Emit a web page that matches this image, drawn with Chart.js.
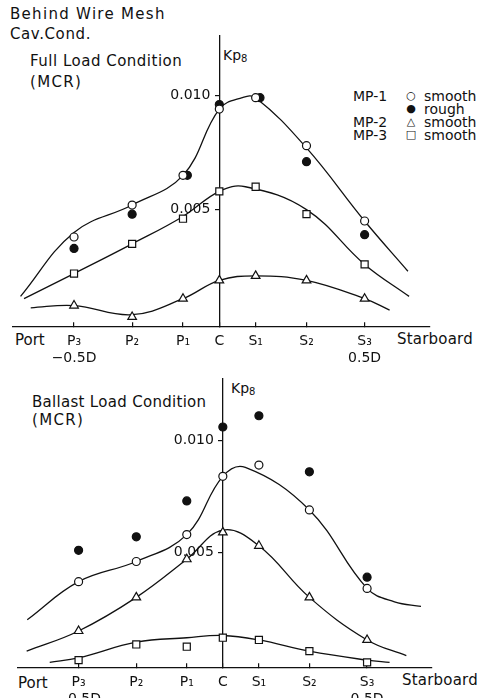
<!DOCTYPE html>
<html>
<head>
<meta charset="utf-8">
<script src="https://cdn.jsdelivr.net/npm/chart.js@4.4.0/dist/chart.umd.min.js"></script>
<style>
  body { margin: 0; width: 477px; height: 698px; overflow: hidden; position: relative; background: #fff;
         font-family: "DejaVu Sans", sans-serif; color: #111; }
  canvas { position: absolute; left: 0; }
  .t { position: absolute; white-space: nowrap; font-size: 15px; line-height: 1; }
  .kp { font-size: 14px; }
  .kp sub { font-size: 10px; vertical-align: -2px; }
  .key { position: absolute; left: 353px; display: flex; align-items: center; height: 13px;
         font-size: 14px; white-space: nowrap; }
  .key .id { width: 45px; }
  .key .sym { width: 26px; text-align: center; font-size: 11px; line-height: 13px; }
</style>
</head>
<body>
<div class="t" style="left:10px;top:7px;letter-spacing:1.3px">Behind Wire Mesh</div>
<div class="t" style="left:10px;top:27px;letter-spacing:0.6px">Cav.Cond.</div>

<div class="t" style="left:30px;top:54px;letter-spacing:0.5px">Full Load Condition</div>
<div class="t" style="left:30px;top:75px;letter-spacing:1.3px">(MCR)</div>
<div class="t kp" style="left:223px;top:48px">Kp<sub>8</sub></div>

<div class="key" style="top:89px"><span class="id">MP-1</span><span class="sym">○</span><span>smooth</span></div>
<div class="key" style="top:102px"><span class="id"></span><span class="sym">●</span><span>rough</span></div>
<div class="key" style="top:115px"><span class="id">MP-2</span><span class="sym">△</span><span>smooth</span></div>
<div class="key" style="top:128px"><span class="id">MP-3</span><span class="sym">□</span><span>smooth</span></div>

<div class="t" style="left:15px;top:333px">Port</div>
<div class="t" style="left:397px;top:332px;letter-spacing:0.2px">Starboard</div>

<div class="t" style="left:32px;top:395px;letter-spacing:0.3px">Ballast Load Condition</div>
<div class="t" style="left:32px;top:413px;letter-spacing:1.3px">(MCR)</div>
<div class="t kp" style="left:231px;top:381px">Kp<sub>8</sub></div>

<div class="t" style="left:18px;top:676px">Port</div>
<div class="t" style="left:402px;top:673px;letter-spacing:0.2px">Starboard</div>

<canvas id="fullLoad" width="477" height="365" style="top:0"></canvas>
<canvas id="ballastLoad" width="477" height="348" style="top:350px"></canvas>

<script>
// measuring stations across the disc, in units of D (port negative)
const stations = [-0.5, -0.3, -0.125, 0, 0.125, 0.3, 0.5];
const stationLabels = [['P₃', '−0.5D'], 'P₂', 'P₁', 'C', 'S₁', 'S₂', ['S₃', '0.5D']];
const kpTicks = [0.005, 0.010];

// Full load condition (MCR)
const fullMP1Smooth = [0.0038, 0.0052, 0.0065, 0.0094, 0.0099, 0.0078, 0.0045];
const fullMP1RoughX = [-0.5, -0.3, -0.11, 0, 0.14, 0.3, 0.5];
const fullMP1Rough = [0.0033, 0.0048, 0.0065, 0.0096, 0.0099, 0.0071, 0.0039];
const fullMP2Smooth = [0.0008, 0.0003, 0.0011, 0.0019, 0.0021, 0.0019, 0.0011];
const fullMP3Smooth = [0.0022, 0.0035, 0.0046, 0.0058, 0.0060, 0.0048, 0.0026];

// faired curves, full load
const fullMP1CurveX = [-0.684, -0.5, -0.3, -0.125, 0, 0.079, 0.125, 0.3, 0.5, 0.649];
const fullMP1CurveY = [0.0012, 0.0040, 0.0052, 0.0065, 0.0094, 0.0099, 0.0099, 0.0077, 0.0045, 0.0023];
const fullMP2CurveX = [-0.649, -0.5, -0.3, -0.125, 0, 0.125, 0.3, 0.5, 0.586];
const fullMP2CurveY = [0.0007, 0.0008, 0.0004, 0.0011, 0.0019, 0.0021, 0.0019, 0.0011, 0.0006];
const fullMP3CurveX = [-0.672, -0.5, -0.3, -0.125, 0, 0.09, 0.3, 0.5, 0.653];
const fullMP3CurveY = [0.0011, 0.0022, 0.0035, 0.0047, 0.0058, 0.0060, 0.0050, 0.0026, 0.0012];

// Ballast load condition (MCR)
const ballastMP1Smooth = [0.0037, 0.0046, 0.0058, 0.0084, 0.0089, 0.0069, 0.0034];
const ballastMP1Rough = [0.0051, 0.0057, 0.0073, 0.0106, 0.0111, 0.0086, 0.0039];
const ballastMP2Smooth = [0.0015, 0.0030, 0.0047, 0.0059, 0.0053, 0.0030, 0.0011];
const ballastMP3Smooth = [0.0002, 0.0009, 0.0008, 0.0012, 0.0011, 0.0006, 0.0001];

// faired curves, ballast load
const ballastMP1CurveX = [-0.678, -0.5, -0.3, -0.125, 0, 0.078, 0.3, 0.5, 0.595, 0.687];
const ballastMP1CurveY = [0.0020, 0.0037, 0.0046, 0.0058, 0.0084, 0.0088, 0.0069, 0.0034, 0.0028, 0.0026];
const ballastMP2CurveX = [-0.68, -0.5, -0.3, -0.125, 0, 0.125, 0.3, 0.5, 0.636];
const ballastMP2CurveY = [0.0006, 0.0015, 0.0030, 0.0047, 0.0060, 0.0053, 0.0030, 0.0011, 0.0004];
const ballastMP3CurveX = [-0.6, -0.5, -0.3, -0.125, 0, 0.125, 0.3, 0.5, 0.578];
const ballastMP3CurveY = [0.0001, 0.0003, 0.0010, 0.0012, 0.0013, 0.0011, 0.0006, 0.0002, 0.0001];

const ink = '#111';
Chart.defaults.font.family = '"DejaVu Sans", sans-serif';
Chart.defaults.font.size = 14;
Chart.defaults.color = ink;

const pts = (xs, ys) => xs.map((x, i) => ({ x: x, y: ys[i] }));

const marks = (xs, ys, style, filled) => ({
    data: pts(xs, ys),
    pointStyle: style,
    pointRadius: style === 'circle' ? 4 : 5,
    pointBackgroundColor: filled ? ink : '#fff',
    pointBorderColor: ink,
    pointBorderWidth: 1.2,
    showLine: false,
    order: 0
});

const curve = (xs, ys) => ({
    data: pts(xs, ys),
    showLine: true,
    borderColor: ink,
    borderWidth: 1.3,
    tension: 0.4,
    pointRadius: 0,
    order: 1
});

const panel = (ctx, datasets, yMin, yMax, padding) => new Chart(ctx, {
    type: 'scatter',
    data: { datasets: datasets },
    options: {
        responsive: false,
        animation: false,
        events: [],
        layout: { padding: padding },
        plugins: { legend: { display: false }, tooltip: { enabled: false } },
        scales: {
            x: {
                type: 'linear',
                min: -0.71,
                max: 0.725,
                position: { y: yMin },
                afterBuildTicks: scale => { scale.ticks = stations.map(v => ({ value: v })) },
                ticks: {
                    autoSkip: false,
                    maxRotation: 0,
                    padding: 11,
                    callback: (value, index) => stationLabels[index]
                },
                grid: { drawOnChartArea: false, tickLength: -5, color: ink, lineWidth: 1.2 },
                border: { color: ink, width: 1.3 }
            },
            y: {
                type: 'linear',
                min: yMin,
                max: yMax,
                position: { x: 0 },
                afterBuildTicks: scale => { scale.ticks = kpTicks.map(v => ({ value: v })) },
                ticks: {
                    padding: 2,
                    callback: value => value.toFixed(3) + '  '
                },
                grid: { drawOnChartArea: false, tickLength: 4, color: ink, lineWidth: 1.2 },
                border: { color: ink, width: 1.3 }
            }
        }
    }
});

panel(document.getElementById('fullLoad'), [
    marks(stations, fullMP1Smooth, 'circle', false),
    marks(fullMP1RoughX, fullMP1Rough, 'circle', true),
    marks(stations, fullMP2Smooth, 'triangle', false),
    marks(stations, fullMP3Smooth, 'rect', false),
    curve(fullMP1CurveX, fullMP1CurveY),
    curve(fullMP2CurveX, fullMP2CurveY),
    curve(fullMP3CurveX, fullMP3CurveY)
], -0.00014, 0.0126, { left: 13, right: 47, top: 36, bottom: 38 });

panel(document.getElementById('ballastLoad'), [
    marks(stations, ballastMP1Smooth, 'circle', false),
    marks(stations, ballastMP1Rough, 'circle', true),
    marks(stations, ballastMP2Smooth, 'triangle', false),
    marks(stations, ballastMP3Smooth, 'rect', false),
    curve(ballastMP1CurveX, ballastMP1CurveY),
    curve(ballastMP2CurveX, ballastMP2CurveY),
    curve(ballastMP3CurveX, ballastMP3CurveY)
], -0.00015, 0.01274, { left: 18, right: 45, top: 29, bottom: 30 });
</script>
</body>
</html>
